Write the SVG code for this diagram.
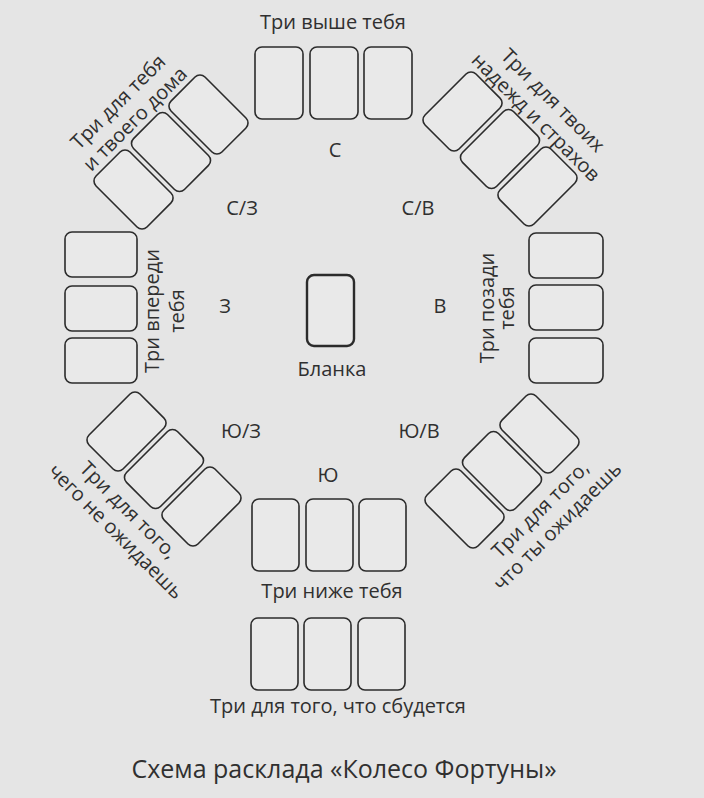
<svg xmlns="http://www.w3.org/2000/svg" width="704" height="798" viewBox="0 0 704 798">
<style>
.card{fill:#e9e9e9;stroke:#2b2b2b;stroke-width:1.6}
.blank{fill:#e9e9e9;stroke:#2b2b2b;stroke-width:2.4}
text{font-family:"Open Sans","Noto Sans","DejaVu Sans",sans-serif;font-size:20px;fill:#303030;text-anchor:middle}
.cap{font-size:25px}
</style>
<rect x="0" y="0" width="704" height="798" fill="#e5e5e5"/>
<g id="top">
<text x="333" y="29">Три выше тебя</text>
<rect class="card" x="255" y="47" width="48" height="72" rx="7"/>
<rect class="card" x="310" y="47" width="48" height="72" rx="7"/>
<rect class="card" x="364" y="47" width="48" height="72" rx="7"/>
</g>
<g id="top-left" transform="translate(171,152) rotate(-45)">
<rect class="card" x="-77" y="-36" width="48" height="72" rx="7"/>
<rect class="card" x="-24" y="-36" width="48" height="72" rx="7"/>
<rect class="card" x="29" y="-36" width="48" height="72" rx="7"/>
<text x="-2" y="-66">Три для тебя</text>
<text x="-2" y="-42">и твоего дома</text>
</g>
<g id="top-right" transform="translate(500,149) rotate(45)">
<rect class="card" x="-77" y="-36" width="48" height="72" rx="7"/>
<rect class="card" x="-24" y="-36" width="48" height="72" rx="7"/>
<rect class="card" x="29" y="-36" width="48" height="72" rx="7"/>
<text x="3" y="-65">Три для твоих</text>
<text x="3" y="-41">надежд и страхов</text>
</g>
<g id="left">
<rect class="card" x="65" y="232" width="72" height="45" rx="7"/>
<rect class="card" x="65" y="286" width="72" height="45" rx="7"/>
<rect class="card" x="65" y="338" width="72" height="45" rx="7"/>
<g transform="translate(159,311) rotate(-90)">
<text x="0" y="0">Три впереди</text>
<text x="0" y="25">тебя</text>
</g>
</g>
<g id="right">
<rect class="card" x="529" y="233" width="74" height="45" rx="7"/>
<rect class="card" x="529" y="285" width="74" height="45" rx="7"/>
<rect class="card" x="529" y="338" width="74" height="45" rx="7"/>
<g transform="translate(494,308) rotate(-90)">
<text x="0" y="0">Три позади</text>
<text x="0" y="20">тебя</text>
</g>
</g>
<g id="center">
<rect class="blank" x="307" y="275" width="47" height="71" rx="7"/>
<text x="332" y="376">Бланка</text>
</g>
<g id="bottom-left" transform="translate(164,469) rotate(45)">
<rect class="card" x="-77" y="-36" width="48" height="72" rx="7"/>
<rect class="card" x="-24" y="-36" width="48" height="72" rx="7"/>
<rect class="card" x="29" y="-36" width="48" height="72" rx="7"/>
<text x="4" y="61">Три для того,</text>
<text x="10" y="85">чего не ожидаешь</text>
</g>
<g id="bottom-right" transform="translate(502,471) rotate(-45)">
<rect class="card" x="-77" y="-36" width="48" height="72" rx="7"/>
<rect class="card" x="-24" y="-36" width="48" height="72" rx="7"/>
<rect class="card" x="29" y="-36" width="48" height="72" rx="7"/>
<text x="0" y="61">Три для того,</text>
<text x="0" y="85">что ты ожидаешь</text>
</g>
<g id="bottom">
<rect class="card" x="252" y="499" width="47" height="72" rx="7"/>
<rect class="card" x="306" y="499" width="47" height="72" rx="7"/>
<rect class="card" x="359" y="499" width="47" height="72" rx="7"/>
<text x="332" y="598">Три ниже тебя</text>
</g>
<g id="bottom2">
<rect class="card" x="251" y="618" width="47" height="72" rx="7"/>
<rect class="card" x="304" y="618" width="47" height="72" rx="7"/>
<rect class="card" x="358" y="618" width="47" height="72" rx="7"/>
<text x="338" y="713">Три для того, что сбудется</text>
</g>
<g id="directions">
<text x="335" y="157">С</text>
<text x="242" y="215">С/З</text>
<text x="418" y="215">С/В</text>
<text x="225" y="313">З</text>
<text x="440" y="313">В</text>
<text x="241" y="438">Ю/З</text>
<text x="419" y="438">Ю/В</text>
<text x="328" y="482">Ю</text>
</g>
<g id="connectors"></g>
<text class="cap" x="344" y="778">Схема расклада «Колесо Фортуны»</text>
</svg>
